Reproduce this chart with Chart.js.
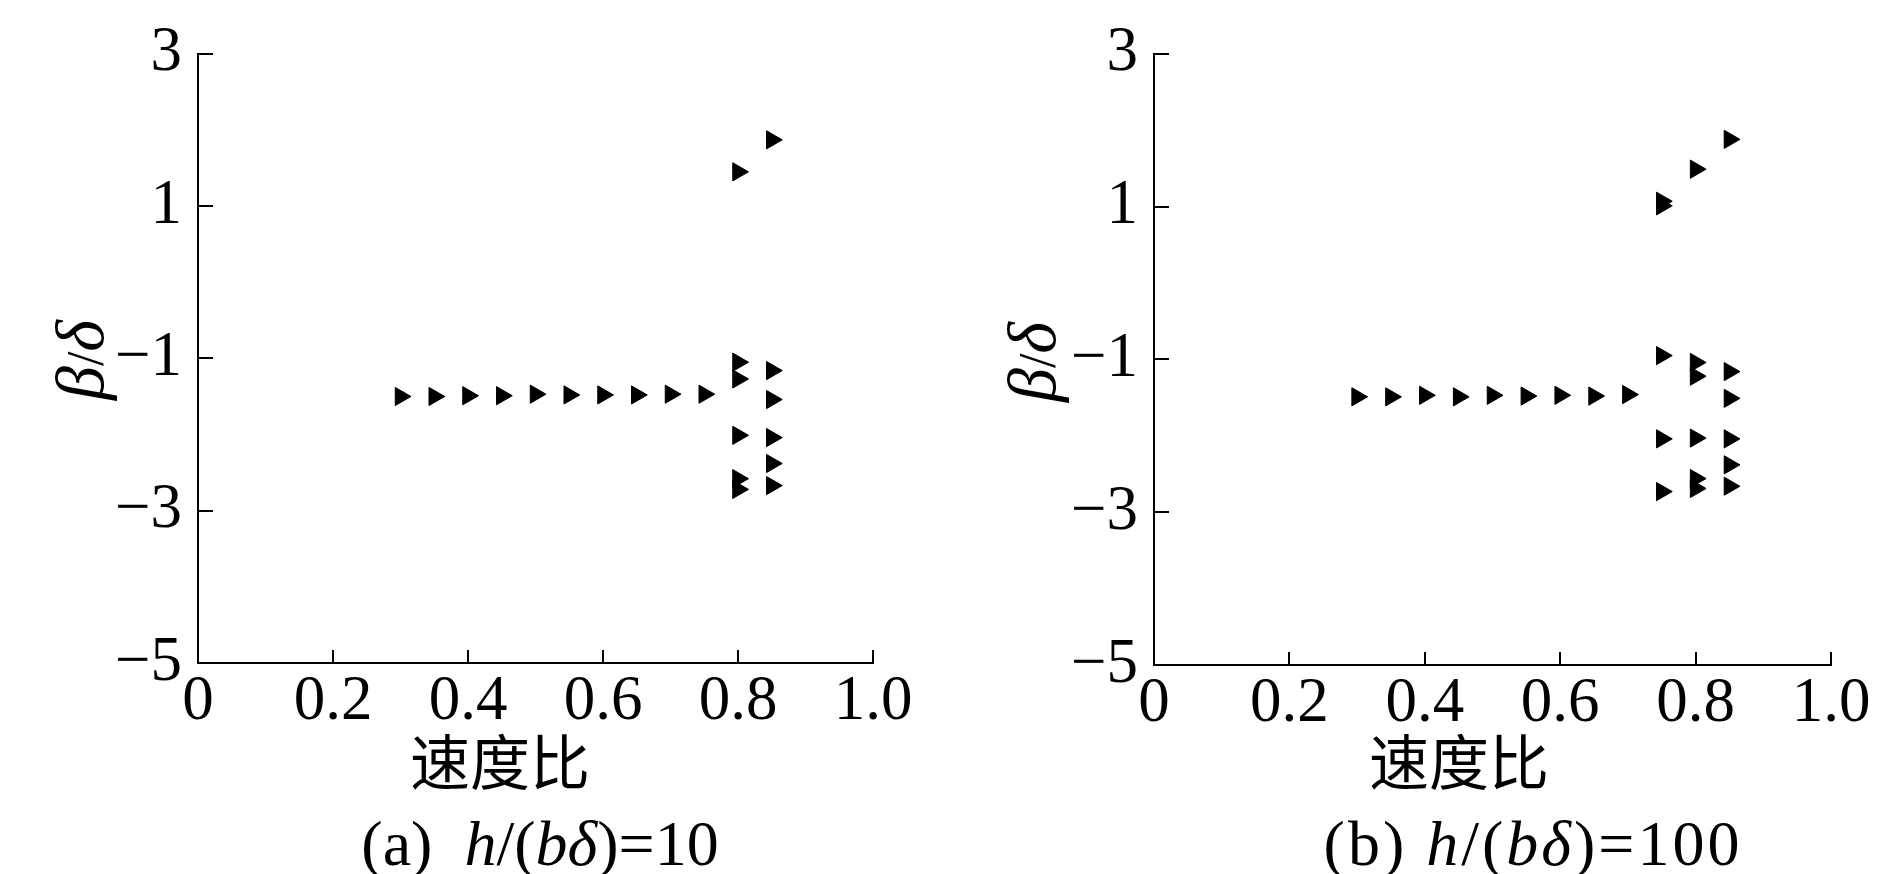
<!DOCTYPE html>
<html>
<head>
<meta charset="utf-8">
<script src="https://cdn.jsdelivr.net/npm/chart.js@4.4.1/dist/chart.umd.min.js"></script>
<style>
html,body{margin:0;padding:0;background:#fff;}
body{width:1890px;height:874px;position:relative;overflow:hidden;font-family:"Liberation Serif","Times New Roman",serif;color:#000;}
.panel{position:absolute;top:0;width:945px;height:874px;}
.txt{position:absolute;white-space:pre;line-height:1;transform:translate(-50%,-50%);}
.xt{font-family:"Noto Sans CJK SC",sans-serif;font-size:60px;}
.yt{font-size:68px;transform:translate(-50%,-50%) rotate(-90deg);}
.yt .sl{font-size:52px;font-style:normal;}
.cap{font-size:64px;}
i{font-style:italic;}
</style>
</head>
<body>
<div class="panel" style="left:0"><canvas id="cA" width="945" height="874"></canvas></div>
<div class="panel" style="left:945px"><canvas id="cB" width="945" height="874"></canvas></div>

<div class="txt xt" style="left:500px;top:759px">速度比</div>
<div class="txt xt" style="left:1459px;top:759px">速度比</div>
<div class="txt yt" style="left:80px;top:360px"><i>β</i><span class="sl">/</span><i>δ</i></div>
<div class="txt yt" style="left:1032px;top:362px"><i>β</i><span class="sl">/</span><i>δ</i></div>
<div class="txt cap" style="left:540px;top:844px">(a)  <i>h</i>/(<i>bδ</i>)=10</div>
<div class="txt cap" style="left:1533px;top:844px;letter-spacing:3px">(b) <i>h</i>/(<i>bδ</i>)=100</div>

<script>
// ---- tick labels ----
const xTickValues = [0, 0.2, 0.4, 0.6, 0.8, 1.0];
const xTickLabels = ['0', '0.2', '0.4', '0.6', '0.8', '1.0'];
const yTickValues = [-5, -3, -1, 1, 3];
const yTickLabels = ['\u22125', '\u22123', '\u22121', '1', '3'];

// ---- (a) h/(b delta) = 10 ----
const speedRatioA = [0.30, 0.35, 0.40, 0.45, 0.50, 0.55, 0.60, 0.65, 0.70, 0.75,
                     0.80, 0.80, 0.80, 0.80, 0.80, 0.80,
                     0.85, 0.85, 0.85, 0.85, 0.85, 0.85];
const betaDeltaA  = [-1.50, -1.50, -1.49, -1.49, -1.47, -1.48, -1.48, -1.48, -1.47, -1.47,
                     1.45, -1.05, -1.27, -2.01, -2.58, -2.72,
                     1.87, -1.16, -1.54, -2.04, -2.38, -2.67];

// ---- (b) h/(b delta) = 100 ----
const speedRatioB = [0.30, 0.35, 0.40, 0.45, 0.50, 0.55, 0.60, 0.65, 0.70,
                     0.75, 0.75, 0.75, 0.75, 0.75,
                     0.80, 0.80, 0.80, 0.80, 0.80, 0.80,
                     0.85, 0.85, 0.85, 0.85, 0.85, 0.85];
const betaDeltaB  = [-1.49, -1.49, -1.47, -1.49, -1.47, -1.48, -1.47, -1.48, -1.46,
                     1.07, 1.01, -0.95, -2.04, -2.73,
                     1.49, -1.04, -1.22, -2.03, -2.56, -2.69,
                     1.88, -1.16, -1.51, -2.04, -2.38, -2.66];

const AXIS_COLOR = '#000';
const TICK_FONT = {family: 'Liberation Serif', size: 63};

const innerTicks = {
  id: 'innerTicks',
  afterDatasetsDraw(chart) {
    const {ctx, scales: {x, y}} = chart;
    ctx.save();
    ctx.strokeStyle = AXIS_COLOR;
    ctx.lineWidth = 2;
    ctx.beginPath();
    x.ticks.forEach(t => {
      if (t.value === x.min) return;
      const px = Math.round(x.getPixelForValue(t.value));
      ctx.moveTo(px, y.bottom);
      ctx.lineTo(px, y.bottom - 13);
    });
    y.ticks.forEach(t => {
      if (t.value === y.min) return;
      const py = Math.round(y.getPixelForValue(t.value));
      ctx.moveTo(x.left, py);
      ctx.lineTo(x.left + 15, py);
    });
    ctx.stroke();
    ctx.restore();
  }
};

function makeChart(id, xs, ys, g) {
  return new Chart(document.getElementById(id), {
    type: 'scatter',
    data: {
      datasets: [{
        data: xs.map((v, i) => ({x: v, y: ys[i]})),
        pointStyle: 'triangle',
        rotation: 90,
        radius: 10.5,
        hoverRadius: 10.5,
        backgroundColor: '#000',
        borderColor: '#000',
        borderWidth: 1
      }]
    },
    options: {
      responsive: false,
      animation: false,
      events: [],
      layout: {padding: {left: 0, top: g.top, right: g.right, bottom: g.bottom}},
      plugins: {legend: {display: false}, tooltip: {enabled: false}},
      scales: {
        x: {
          type: 'linear', min: 0, max: 1,
          afterBuildTicks: s => { s.ticks = xTickValues.map(v => ({value: v})); },
          afterFit: s => { s.height = g.xh; },
          grid: {display: false, drawTicks: false},
          border: {display: true, color: AXIS_COLOR, width: 2},
          ticks: {padding: 2, color: '#000', font: TICK_FONT, maxRotation: 0, autoSkip: false,
                  callback: (v, i) => xTickLabels[i]}
        },
        y: {
          type: 'linear', min: -5, max: 3,
          afterBuildTicks: s => { s.ticks = yTickValues.map(v => ({value: v})); },
          afterFit: s => { s.width = g.yw; },
          grid: {display: false, drawTicks: false},
          border: {display: true, color: AXIS_COLOR, width: 2},
          ticks: {padding: 16, color: '#000', font: TICK_FONT, autoSkip: false,
                  callback: (v, i) => yTickLabels[i]}
        }
      }
    },
    plugins: [innerTicks]
  });
}

makeChart('cA', speedRatioA, betaDeltaA, {top: 50, right: 72, bottom: 111, xh: 100, yw: 198});
makeChart('cB', speedRatioB, betaDeltaB, {top: 48, right: 59, bottom: 109, xh: 100, yw: 209});
</script>
</body>
</html>
